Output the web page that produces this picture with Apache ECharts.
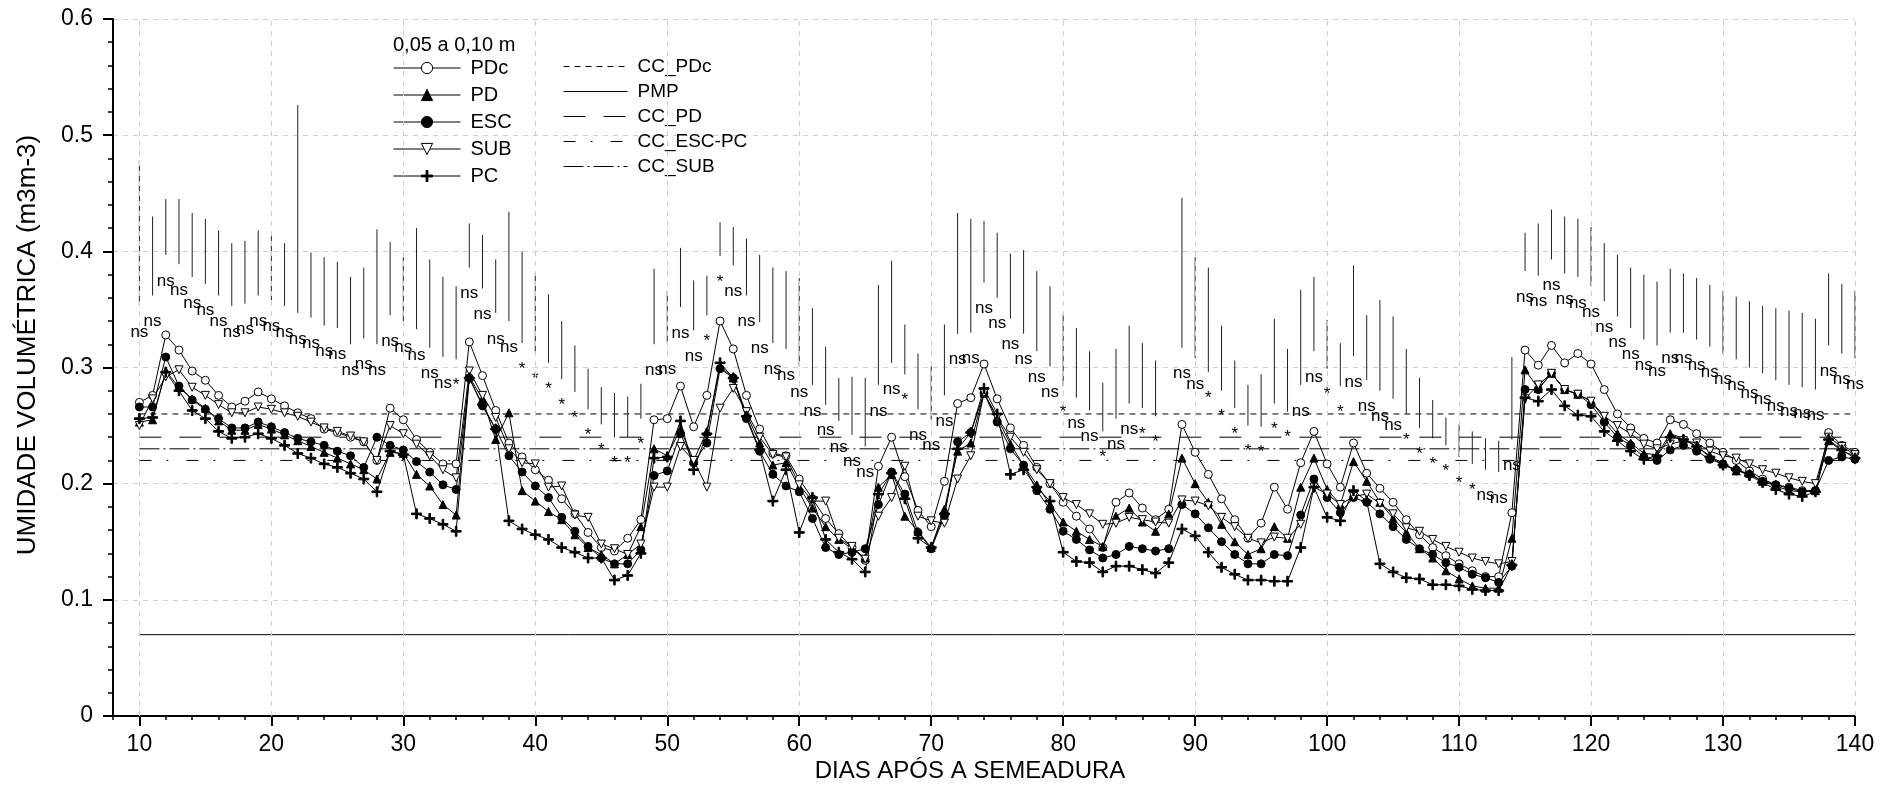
<!DOCTYPE html>
<html><head><meta charset="utf-8">
<script src="https://cdn.jsdelivr.net/npm/echarts@6/dist/echarts.min.js"></script>
<style>html,body{margin:0;padding:0;background:#fff}#c{width:1899px;height:787px}</style>
</head><body><div id="c"></div>
<script>
const FONT = "'Liberation Sans', Arial, sans-serif";

// x domain: days after sowing 10..140
const days = [];
for (let d = 10; d <= 140; d++) days.push(d);

const xTickLabels = [10, 20, 30, 40, 50, 60, 70, 80, 90, 100, 110, 120, 130, 140];

const PDc = [
 .270,.276,.328,.315,.297,.289,.276,.266,.271,.279,
 .273,.267,.261,.256,.247,.244,.240,.236,.220,.265,
 .255,.238,.227,.217,.217,.322,.293,.263,.235,.223,
 .212,.203,.187,.174,.158,.145,.142,.153,.169,.255,
 .256,.284,.249,.276,.340,.316,.276,.247,.226,.224,
 .204,.187,.170,.157,.145,.134,.215,.240,.206,.177,
 .163,.202,.269,.274,.303,.273,.248,.233,.214,.200,
 .184,.172,.161,.145,.184,.192,.179,.169,.178,.251,
 .227,.208,.187,.169,.153,.166,.197,.178,.218,.245,
 .217,.197,.235,.209,.196,.184,.169,.156,.145,.138,
 .131,.125,.120,.120,.175,.315,.302,.319,.304,.312,
 .303,.281,.260,.248,.239,.235,.255,.251,.243,.235,
 .227,.220,.211,.204,.199,.197,.194,.194,.244,.233,
 .227];
const PD = [
 .253,.255,.297,.283,.273,.265,.254,.246,.246,.251,
 .247,.242,.237,.232,.227,.222,.217,.212,.204,.227,
 .226,.208,.198,.182,.173,.292,.273,.238,.261,.194,
 .185,.176,.169,.156,.145,.139,.131,.139,.163,.230,
 .224,.247,.220,.245,.301,.291,.260,.235,.216,.218,
 .197,.179,.163,.152,.144,.136,.197,.208,.172,.159,
 .145,.178,.228,.235,.278,.257,.234,.216,.199,.182,
 .167,.159,.152,.146,.172,.179,.167,.159,.174,.222,
 .200,.184,.165,.150,.139,.144,.163,.153,.197,.222,
 .195,.182,.219,.202,.184,.170,.158,.144,.136,.125,
 .118,.112,.110,.110,.153,.298,.282,.295,.281,.277,
 .271,.256,.243,.235,.226,.225,.243,.239,.232,.224,
 .217,.211,.209,.202,.198,.194,.193,.194,.237,.228,
 .224];
const ESC = [
 .266,.266,.309,.284,.272,.264,.256,.248,.248,.253,
 .249,.244,.239,.236,.233,.228,.224,.214,.240,.233,
 .229,.219,.210,.199,.195,.291,.267,.247,.224,.210,
 .198,.188,.171,.159,.146,.136,.131,.131,.143,.207,
 .211,.243,.218,.235,.299,.291,.256,.228,.208,.198,
 .193,.170,.145,.139,.141,.144,.182,.210,.191,.158,
 .144,.172,.236,.244,.278,.253,.230,.216,.194,.178,
 .159,.152,.143,.136,.139,.146,.144,.142,.144,.182,
 .174,.162,.150,.139,.131,.131,.139,.138,.173,.204,
 .188,.175,.188,.184,.174,.163,.152,.144,.139,.132,
 .128,.122,.119,.115,.129,.281,.281,.295,.281,.277,
 .268,.253,.240,.233,.223,.220,.229,.233,.228,.221,
 .217,.212,.208,.202,.199,.196,.193,.194,.220,.223,
 .221];
const SUB = [
 .250,.273,.292,.298,.283,.276,.268,.261,.261,.266,
 .264,.261,.258,.253,.248,.245,.241,.236,.220,.250,
 .243,.234,.224,.212,.205,.297,.276,.257,.230,.218,
 .217,.197,.198,.173,.171,.148,.144,.139,.148,.197,
 .197,.232,.220,.197,.265,.282,.262,.240,.225,.223,
 .199,.185,.185,.153,.146,.135,.172,.188,.215,.172,
 .168,.166,.204,.224,.278,.257,.240,.227,.212,.200,
 .188,.182,.174,.165,.166,.171,.169,.167,.166,.186,
 .185,.181,.171,.163,.153,.149,.154,.153,.165,.197,
 .191,.182,.189,.191,.183,.174,.162,.159,.152,.146,
 .141,.136,.133,.131,.133,.273,.285,.295,.281,.277,
 .271,.258,.250,.243,.234,.230,.234,.237,.235,.228,
 .224,.222,.217,.212,.209,.205,.202,.200,.240,.232,
 .225];
const PC = [
 .256,.257,.296,.280,.263,.256,.245,.239,.240,.243,
 .239,.233,.226,.222,.217,.214,.209,.204,.193,.228,
 .225,.174,.170,.165,.159,.291,.268,.247,.168,.161,
 .156,.152,.145,.141,.136,.136,.117,.121,.140,.222,
 .223,.254,.212,.243,.304,.291,.258,.229,.185,.212,
 .158,.188,.152,.141,.135,.124,.191,.209,.187,.153,
 .145,.174,.230,.244,.282,.260,.208,.212,.197,.185,
 .141,.133,.132,.124,.129,.129,.126,.123,.132,.161,
 .155,.141,.128,.122,.117,.117,.116,.116,.145,.197,
 .171,.168,.194,.185,.131,.124,.119,.118,.113,.113,
 .112,.109,.108,.108,.130,.274,.271,.281,.267,.259,
 .258,.245,.237,.228,.221,.224,.240,.238,.232,.223,
 .216,.212,.207,.201,.195,.191,.189,.193,.238,.229,
 .222];

// vertical bars (top / bottom) and significance labels, one per day
const barTop = [
 .478,.430,.445,.445,.433,.428,.418,.407,.409,.418,
 .413,.407,.526,.399,.395,.391,.378,.386,.419,.408,
 .395,.420,.393,.378,.370,.424,.414,.393,.434,.400,
 .381,.363,.340,.319,.299,.283,.278,.275,.286,.385,
 .366,.403,.375,.379,.425,.421,.411,.397,.386,.383,
 .377,.351,.318,.291,.292,.291,.371,.392,.337,.312,
 .301,.337,.433,.428,.426,.416,.398,.401,.383,.370,
 .346,.334,.314,.287,.316,.336,.321,.306,null,.446,
 .395,.386,.336,.306,.285,.294,.342,.316,.367,.378,
 .341,.321,.388,.345,.358,.344,.316,.291,.272,.257,
 .251,.245,.239,.237,.309,.416,.424,.436,.430,.428,
 .421,.407,.397,.386,.380,.374,.385,.381,.377,.371,
 .366,.361,.357,.353,.351,.349,.347,.342,.381,.372,
 .366];
const barBot = [
 .353,.362,.397,.389,.378,.372,.362,.353,.355,.362,
 .358,.353,.347,.343,.336,.334,.320,.325,.320,.345,
 .340,.333,.317,.309,.307,.386,.368,.347,.340,.321,
 .312,.304,.290,.279,.264,.251,.240,.240,.256,.320,
 .321,.352,.332,.345,.396,.388,.362,.339,.321,.316,
 .301,.285,.268,.254,.242,.232,.285,.304,.294,.264,
 .255,.276,.329,.330,.373,.360,.342,.329,.314,.301,
 .284,.274,.263,.245,.256,.269,.265,.258,null,.317,
 .308,.296,.280,.265,.250,.249,.269,.262,.285,.314,
 .299,.284,.310,.289,.280,.273,.260,.248,.239,.233,
 .223,.217,.212,.210,.238,.383,.379,.393,.381,.378,
 .370,.357,.344,.334,.324,.319,.330,.330,.324,.318,
 .312,.307,.300,.295,.289,.285,.283,.281,.319,.312,
 .308];
const sig = [
 'ns','ns','ns','ns','ns','ns','ns','ns','ns','ns',
 'ns','ns','ns','ns','ns','ns','ns','ns','ns','ns',
 'ns','ns','ns','ns','*','ns','ns','ns','ns','*',
 '*','*','*','*','*','*','*','*','*','ns',
 'ns','ns','ns','*','*','ns','ns','ns','ns','ns',
 'ns','ns','ns','ns','ns','ns','ns','ns','*','ns',
 'ns','ns','ns','ns','ns','ns','ns','ns','ns','ns',
 '*','ns','ns','*','ns','ns','*','*','','ns',
 'ns','*','*','*','*','*','*','*','ns','ns',
 '*','*','ns','ns','ns','ns','*','*','*','*',
 '*','*','ns','ns','ns','ns','ns','ns','ns','ns',
 'ns','ns','ns','ns','ns','ns','ns','ns','ns','ns',
 'ns','ns','ns','ns','ns','ns','ns','ns','ns','ns',
 'ns'];

const ccNames = ['CC_PDc', 'PMP', 'CC_PD', 'CC_ESC-PC', 'CC_SUB'];
const ccValues = [0.26, 0.07, 0.24, 0.22, 0.23];
const ccDash = [[6, 5], 'solid', [22, 18], [12, 15, 2, 18], [20, 4, 2, 4]];

const seriesNames = ['PDc', 'PD', 'ESC', 'SUB', 'PC'];
const seriesValues = [PDc, PD, ESC, SUB, PC];

const SYM = {
  PDc: {symbol: 'circle', fill: '#fff', size: 8},
  PD: {symbol: 'triangle', fill: '#000', size: 8},
  ESC: {symbol: 'circle', fill: '#000', size: 8},
  SUB: {symbol: 'path://M0,0 L10,0 L5,9 Z', fill: '#fff', size: 8},
  PC: {symbol: 'path://M4.2,0 H5.8 V4.2 H10 V5.8 H5.8 V10 H4.2 V5.8 H0 V4.2 H4.2 Z', fill: '#000', size: 10}
};

const barData = [];
days.forEach((d, i) => { if (barTop[i] != null) barData.push([d, barTop[i], barBot[i], i]); });

const series = [];
// vertical dashed grid lines at the labelled days
series.push({
  type: 'line', name: '_grid', data: [], silent: true, z: 1,
  markLine: {
    silent: true, symbol: 'none', label: {show: false},
    lineStyle: {color: '#cfcfcf', type: [5, 5], width: 1},
    data: xTickLabels.map(v => ({xAxis: v}))
  }
});
ccNames.forEach((n, i) => {
  series.push({
    type: 'line', name: n, silent: true, z: 2, symbol: 'none',
    data: [[10, ccValues[i]], [140, ccValues[i]]],
    lineStyle: {color: '#000', width: 1, type: ccDash[i]}
  });
});
series.push({
  type: 'custom', name: '_bars', z: 3, silent: true,
  data: barData,
  encode: {x: 0, y: [1, 2]},
  renderItem: function (params, api) {
    const d = api.value(0), t = api.value(1), b = api.value(2), idx = api.value(3);
    const p1 = api.coord([d, t]), p2 = api.coord([d, b]);
    return {type: 'group', children: [
      {type: 'line', shape: {x1: p1[0], y1: p1[1], x2: p2[0], y2: p2[1]}, style: {stroke: '#222', lineWidth: 1}},
      {type: 'text', x: p2[0], y: p2[1] + 26, style: {text: sig[idx], align: 'center', verticalAlign: 'middle', font: '17px ' + FONT, fill: '#000'}}
    ]};
  }
});
seriesNames.forEach((n, k) => {
  const s = SYM[n];
  series.push({
    type: 'line', name: n, z: 5, silent: true,
    data: days.map((d, i) => [d, seriesValues[k][i]]),
    symbol: s.symbol, symbolSize: s.size, showAllSymbol: true,
    lineStyle: {color: '#000', width: 1},
    itemStyle: {color: s.fill, borderColor: '#000', borderWidth: 1}
  });
});

const chart = echarts.init(document.getElementById('c'), null, {renderer: 'canvas'});
chart.setOption({
  animation: false,
  backgroundColor: '#fff',
  textStyle: {fontFamily: FONT},
  grid: {left: 113, right: 44, top: 19, bottom: 71, containLabel: false},
  title: {text: '0,05 a 0,10 m', left: 393, top: 35, padding: 0,
    textStyle: {fontSize: 20, fontWeight: 'normal', color: '#000', fontFamily: FONT}},
  legend: [
    {data: seriesNames, orient: 'vertical', left: 393, top: 58, padding: 0,
     itemWidth: 67, itemHeight: 14, itemGap: 7, selectedMode: false,
     itemStyle: {borderWidth: 1}, lineStyle: {width: 1},
     textStyle: {fontSize: 20, color: '#000', fontFamily: FONT, padding: [0, 0, 0, 5]}},
    {data: ccNames.map((n, i) => ({name: n,
       lineStyle: {type: ccDash[i], width: 1, color: '#000'},
       itemStyle: {color: 'rgba(0,0,0,0)', borderWidth: 0, borderColor: 'rgba(0,0,0,0)'}})),
     orient: 'vertical', left: 563, top: 57, padding: 0,
     itemWidth: 64, itemHeight: 14, itemGap: 6, selectedMode: false,
     textStyle: {fontSize: 19, color: '#000', fontFamily: FONT, padding: [0, 0, 0, 5]}}
  ],
  xAxis: [
    {type: 'value', min: 8, max: 140, interval: 2,
     axisLine: {show: true, lineStyle: {color: '#000', width: 2}},
     axisTick: {show: true, length: 4, lineStyle: {color: '#000', width: 1.5}},
     axisLabel: {show: false}, splitLine: {show: false}},
    {type: 'value', min: 8, max: 140, interval: 2, position: 'bottom',
     axisLine: {show: false},
     axisTick: {show: true, length: 10, customValues: xTickLabels, lineStyle: {color: '#000', width: 2}},
     axisLabel: {show: true, customValues: xTickLabels, margin: 17, fontSize: 23, color: '#000', fontFamily: FONT},
     splitLine: {show: false}}
  ],
  yAxis: {type: 'value', min: 0, max: 0.6, interval: 0.1,
    axisLine: {show: true, lineStyle: {color: '#000', width: 2}},
    axisTick: {show: true, length: 10, lineStyle: {color: '#000', width: 2}},
    minorTick: {show: true, splitNumber: 5, length: 5, lineStyle: {color: '#000', width: 1.5}},
    axisLabel: {margin: 20, fontSize: 23, color: '#000', fontFamily: FONT},
    splitLine: {show: true, lineStyle: {color: '#cfcfcf', type: [5, 5], width: 1}}},
  graphic: [
    {type: 'text', x: 970, y: 771, style: {text: 'DIAS APÓS A SEMEADURA', align: 'center', verticalAlign: 'middle', font: '24px ' + FONT, fill: '#000'}},
    {type: 'text', x: 28, y: 345, rotation: Math.PI / 2, style: {text: 'UMIDADE VOLUMÉTRICA (m3m-3)', align: 'center', verticalAlign: 'middle', font: '26px ' + FONT, fill: '#000'}}
  ],
  series: series
});
</script></body></html>
